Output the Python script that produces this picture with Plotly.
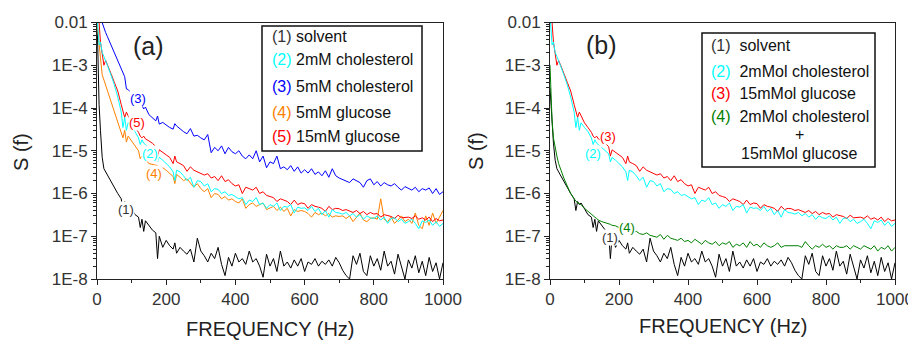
import plotly.graph_objects as go

# the page body has an 8px margin, so the figure is 908x332 and sits at (8, 8)
OFF = 8
W, H = 916 - OFF, 340 - OFF
FONT = "Liberation Sans, Arial, sans-serif"


def px(x):
    return (x - OFF) / W


def py(y):
    return 1 - (y - OFF) / H


# ---------------- data ----------------
freq = [0, 3, 6, 10, 15, 20, 25, 30,
        40, 50, 60, 70, 75, 80, 85, 90,
        100, 110, 120, 125, 130, 135, 140,
        150, 160, 170, 175, 180, 190, 200, 210, 220, 225, 230,
        240, 250, 260, 270, 280, 290, 300, 310, 320, 330,
        340, 350, 360, 370, 380, 390, 400, 410, 420, 430,
        440, 450, 460, 470, 480, 490, 500, 510, 520, 530,
        540, 550, 560, 570, 580, 590, 600, 610, 620, 630,
        640, 650, 660, 670, 680, 690, 700, 710, 720, 730,
        740, 750, 760, 770, 780, 790, 800, 810, 820, 830,
        840, 850, 860, 870, 880, 890, 900, 910, 920, 930,
        940, 950, 960, 970, 980, 990, 1000]

chol_5mM = [3.0e-2, 2.0e-2, 1.5e-2, 1.3e-2, 1.0e-2, 7.0e-3, 5.8e-3, 4.7e-3,
            3.1e-3, 2.0e-3, 1.3e-3, 8.5e-4, 6.9e-4, 5.4e-4, 2.8e-4, 2.7e-4,
            2.2e-4, 1.7e-4, 1.4e-4, 1.25e-4, 1.15e-4, 0.95e-4, 1.05e-4,
            7.0e-5, 6.0e-5, 5.0e-5, 6.5e-5, 4.2e-5, 4.6e-5, 4.0e-5, 3.5e-5, 3.2e-5, 4.3e-5, 3.8e-5,
            3.2e-5, 2.8e-5, 2.5e-5, 3.3e-5, 2.2e-5, 2.3e-5, 2.0e-5, 1.8e-5, 2.4e-5, 9.0e-6,
            1.2e-5, 1.0e-5, 1.3e-5, 8.5e-6, 1.2e-5, 9.5e-6, 8.5e-6, 1.0e-5, 7.5e-6, 6.5e-6,
            8.0e-6, 6.5e-6, 1.0e-5, 5.5e-6, 7.5e-6, 4.0e-6, 5.5e-6, 5.0e-6, 7.5e-6, 3.8e-6,
            4.2e-6, 3.6e-6, 4.5e-6, 3.3e-6, 4.2e-6, 3.0e-6, 3.6e-6, 3.0e-6, 3.8e-6, 2.8e-6,
            3.2e-6, 2.6e-6, 3.4e-6, 2.4e-6, 3.8e-6, 2.6e-6, 2.3e-6, 2.1e-6, 2.0e-6, 1.8e-6,
            2.2e-6, 2.0e-6, 1.8e-6, 1.4e-6, 2.0e-6, 2.2e-6, 1.6e-6, 1.9e-6, 1.5e-6, 1.8e-6,
            1.6e-6, 1.5e-6, 1.7e-6, 1.4e-6, 1.2e-6, 1.45e-6, 1.3e-6, 1.2e-6, 1.4e-6, 1.1e-6,
            1.3e-6, 1.2e-6, 1.35e-6, 1.0e-6, 1.3e-6, 0.95e-6, 1.1e-6]

glucose_15mM = [2.0e-2, 1.5e-2, 1.0e-2, 3.5e-3, 2.0e-3, 1.0e-3, 1.3e-3, 1.05e-3,
                6.5e-4, 4.0e-4, 2.5e-4, 1.2e-4, 9.0e-5, 6.0e-5, 8.0e-5, 6.5e-5,
                4.5e-5, 3.5e-5, 2.7e-5, 2.2e-5, 2.0e-5, 2.2e-5, 1.9e-5,
                1.7e-5, 1.5e-5, 1.25e-5, 7.5e-6, 1.05e-5, 9.0e-6, 8.0e-6, 7.0e-6, 5.0e-6, 7.5e-6, 5.5e-6,
                5.0e-6, 4.5e-6, 3.3e-6, 4.2e-6, 3.5e-6, 3.2e-6, 3.0e-6, 2.7e-6, 2.9e-6, 2.3e-6,
                2.5e-6, 2.0e-6, 2.6e-6, 1.9e-6, 2.1e-6, 1.7e-6, 1.5e-6, 1.6e-6, 1.0e-6, 1.4e-6,
                1.3e-6, 1.2e-6, 1.4e-6, 1.0e-6, 1.1e-6, 9.0e-7, 8.5e-7, 8.0e-7, 6.5e-7, 7.5e-7,
                7.0e-7, 6.5e-7, 5.5e-7, 7.0e-7, 5.5e-7, 6.0e-7, 5.8e-7, 4.5e-7, 5.5e-7, 5.0e-7,
                4.8e-7, 4.5e-7, 3.8e-7, 5.0e-7, 4.2e-7, 4.5e-7, 4.4e-7, 4.0e-7, 4.2e-7, 3.8e-7,
                3.6e-7, 4.0e-7, 3.4e-7, 3.8e-7, 3.2e-7, 3.6e-7, 3.3e-7, 3.4e-7, 2.8e-7, 3.2e-7,
                3.0e-7, 2.9e-7, 2.6e-7, 3.1e-7, 2.7e-7, 2.8e-7, 2.8e-7, 2.6e-7, 3.0e-7, 2.5e-7,
                2.7e-7, 2.4e-7, 2.8e-7, 2.2e-7, 2.6e-7, 2.3e-7, 2.4e-7]

chol_2mM = [1.5e-2, 8.0e-3, 3.0e-3, 3.5e-3, 2.0e-3, 1.6e-3, 1.3e-3, 1.0e-3,
            6.0e-4, 3.5e-4, 1.8e-4, 8.0e-5, 3.5e-5, 6.0e-5, 3.0e-5, 4.5e-5,
            3.5e-5, 2.8e-5, 2.0e-5, 1.4e-5, 1.8e-5, 1.5e-5, 1.4e-5,
            1.2e-5, 1.0e-5, 8.5e-6, 5.5e-6, 7.0e-6, 6.0e-6, 5.0e-6, 4.2e-6, 3.2e-6, 2.0e-6, 3.5e-6,
            3.2e-6, 2.6e-6, 2.0e-6, 2.4e-6, 1.4e-6, 2.0e-6, 1.9e-6, 1.5e-6, 1.7e-6, 1.1e-6,
            1.3e-6, 1.25e-6, 1.0e-6, 1.1e-6, 9.0e-7, 9.5e-7, 8.5e-7, 7.5e-7, 8.0e-7, 5.5e-7,
            7.0e-7, 6.5e-7, 8.0e-7, 5.5e-7, 6.0e-7, 4.5e-7, 5.5e-7, 5.0e-7, 6.0e-7, 4.0e-7,
            5.0e-7, 4.8e-7, 5.5e-7, 3.5e-7, 4.8e-7, 4.5e-7, 4.6e-7, 4.0e-7, 5.0e-7, 3.8e-7,
            4.5e-7, 3.2e-7, 4.0e-7, 2.8e-7, 4.2e-7, 3.6e-7, 3.5e-7, 3.3e-7, 3.6e-7, 3.0e-7,
            3.4e-7, 2.8e-7, 3.2e-7, 2.5e-7, 3.0e-7, 2.7e-7, 2.6e-7, 3.0e-7, 2.4e-7, 2.8e-7,
            2.0e-7, 2.6e-7, 2.7e-7, 2.2e-7, 2.5e-7, 2.0e-7, 2.2e-7, 2.5e-7, 2.0e-7, 1.5e-7,
            2.3e-7, 2.1e-7, 2.4e-7, 1.8e-7, 2.2e-7, 1.7e-7, 2.0e-7]

glucose_5mM = [1.0e-2, 5.0e-3, 2.5e-3, 1.5e-3, 6.0e-4, 4.5e-4, 3.5e-4, 2.8e-4,
               1.6e-4, 9.0e-5, 5.0e-5, 2.8e-5, 2.0e-5, 3.0e-5, 1.6e-5, 2.2e-5,
               1.7e-5, 1.3e-5, 1.0e-5, 6.5e-6, 7.5e-6, 6.0e-6, 6.5e-6,
               5.0e-6, 4.8e-6, 4.6e-6, 4.5e-6, 4.2e-6, 4.0e-6, 3.5e-6, 3.0e-6, 2.5e-6, 1.7e-6, 2.8e-6,
               2.4e-6, 2.0e-6, 2.2e-6, 1.8e-6, 1.4e-6, 1.7e-6, 1.3e-6, 1.1e-6, 1.3e-6, 8.0e-7,
               1.0e-6, 9.5e-7, 7.5e-7, 8.5e-7, 7.0e-7, 7.5e-7, 6.5e-7, 6.0e-7, 7.5e-7, 4.5e-7,
               5.5e-7, 6.0e-7, 5.0e-7, 5.5e-7, 6.0e-7, 4.2e-7, 4.6e-7, 5.0e-7, 4.0e-7, 4.8e-7,
               3.8e-7, 4.5e-7, 3.0e-7, 4.2e-7, 3.8e-7, 4.0e-7, 3.8e-7, 3.4e-7, 2.8e-7, 3.6e-7,
               3.2e-7, 3.5e-7, 3.0e-7, 3.4e-7, 2.8e-7, 3.0e-7, 2.9e-7, 3.0e-7, 2.6e-7, 3.0e-7,
               2.2e-7, 2.8e-7, 3.5e-7, 2.4e-7, 2.2e-7, 2.6e-7, 2.7e-7, 2.5e-7, 7.5e-7, 2.5e-7,
               2.2e-7, 2.8e-7, 2.0e-7, 2.4e-7, 3.0e-7, 2.2e-7, 2.5e-7, 2.0e-7, 3.5e-7, 1.8e-7,
               1.5e-7, 3.0e-7, 1.8e-7, 3.5e-7, 2.0e-7, 2.8e-7, 4.0e-7]

chol_glucose_mix = [1.0e-3, 2.0e-4, 5.0e-5, 2.0e-5, 1.1e-5, 7.5e-6, 5.0e-6, 3.8e-6,
                    2.3e-6, 1.5e-6, 1.0e-6, 7.5e-7, 6.5e-7, 6.0e-7, 5.8e-7, 5.5e-7,
                    4.5e-7, 3.8e-7, 3.2e-7, 2.9e-7, 2.8e-7, 2.6e-7, 2.4e-7,
                    2.2e-7, 2.1e-7, 2.0e-7, 1.9e-7, 1.8e-7, 1.75e-7, 1.6e-7, 1.5e-7, 1.45e-7, 1.4e-7, 1.3e-7,
                    1.2e-7, 1.3e-7, 1.15e-7, 1.1e-7, 1.2e-7, 1.05e-7, 1.0e-7, 9.5e-8, 1.1e-7, 8.5e-8,
                    1.05e-7, 9.0e-8, 8.5e-8, 8.0e-8, 9.0e-8, 7.5e-8, 8.0e-8, 7.0e-8, 8.5e-8, 7.5e-8,
                    6.5e-8, 8.0e-8, 7.0e-8, 6.5e-8, 7.5e-8, 6.0e-8, 7.0e-8, 6.5e-8, 7.5e-8, 5.5e-8,
                    6.5e-8, 6.0e-8, 7.0e-8, 5.5e-8, 7.5e-8, 6.0e-8, 6.5e-8, 5.5e-8, 7.0e-8, 6.0e-8,
                    5.5e-8, 6.0e-8, 7.0e-8, 5.5e-8, 6.0e-8, 6.0e-8, 6.0e-8, 6.0e-8, 6.0e-8, 5.5e-8,
                    7.5e-8, 6.0e-8, 5.0e-8, 6.0e-8, 5.5e-8, 6.5e-8, 5.5e-8, 6.0e-8, 5.0e-8, 6.0e-8,
                    5.5e-8, 5.5e-8, 6.0e-8, 5.0e-8, 6.0e-8, 5.5e-8, 5.0e-8, 6.0e-8, 5.5e-8, 5.0e-8,
                    6.0e-8, 4.5e-8, 5.5e-8, 5.0e-8, 6.0e-8, 4.5e-8, 5.5e-8]

solvent_head_a = [1.5e-2, 5.0e-4, 1.2e-4, 3.0e-5, 7.0e-6, 3.8e-6]
solvent_head_b = [3.0e-4, 1.0e-4, 4.0e-5, 1.5e-5, 6.0e-6, 3.8e-6]
solvent_tail = [3.2e-6, 2.7e-6,
                1.9e-6, 1.3e-6, 1.0e-6, 7.5e-7, 4.0e-7, 6.5e-7, 5.5e-7, 6.0e-7,
                4.2e-7, 3.2e-7, 2.8e-7, 1.6e-7, 2.5e-7, 1.3e-7, 2.3e-7,
                1.8e-7, 1.4e-7, 1.2e-7, 3.0e-8, 1.0e-7, 5.5e-8, 8.0e-8, 6.0e-8, 5.0e-8, 7.0e-8, 4.0e-8,
                5.5e-8, 4.5e-8, 3.8e-8, 5.0e-8, 2.5e-8, 9.0e-8, 4.5e-8, 3.5e-8, 2.5e-8, 4.0e-8,
                3.0e-8, 5.5e-8, 2.2e-8, 1.2e-8, 3.2e-8, 2.0e-8, 4.0e-8, 2.5e-8, 3.0e-8, 2.2e-8,
                4.5e-8, 2.5e-8, 3.0e-8, 2.0e-8, 1.1e-8, 3.8e-8, 2.0e-8, 3.0e-8, 1.5e-8, 4.5e-8,
                2.0e-8, 2.5e-8, 1.8e-8, 2.8e-8, 2.0e-8, 3.0e-8, 1.5e-8, 2.5e-8, 2.2e-8, 3.0e-8,
                2.0e-8, 2.6e-8, 2.2e-8, 2.8e-8, 2.0e-8, 3.2e-8, 2.4e-8, 1.6e-8, 1.2e-8, 1.0e-8,
                3.5e-8, 2.2e-8, 4.0e-8, 1.5e-8, 1.2e-8, 3.5e-8, 2.0e-8, 3.0e-8, 1.6e-8, 4.5e-8,
                2.0e-8, 2.6e-8, 1.3e-8, 3.8e-8, 2.0e-8, 1.0e-8, 2.8e-8, 1.8e-8, 3.5e-8, 1.4e-8,
                2.6e-8, 1.2e-8, 3.2e-8, 1.5e-8, 2.4e-8, 1.0e-8, 2.4e-8]
solvent_a = solvent_head_a + solvent_tail
solvent_b = solvent_head_b + solvent_tail

for s in (chol_5mM, glucose_15mM, chol_2mM, glucose_5mM, chol_glucose_mix, solvent_a, solvent_b):
    assert len(s) == len(freq), len(s)

x_ticks = [0, 200, 400, 600, 800, 1000]
x_minor = [100, 300, 500, 700, 900]
y_ticks = [1e-8, 1e-7, 1e-6, 1e-5, 1e-4, 1e-3, 1e-2]
y_ticktext = ["1E-8", "1E-7", "1E-6", "1E-5", "1E-4", "1E-3", "0.01"]
y_minor = [m * d for d in (1e-8, 1e-7, 1e-6, 1e-5, 1e-4, 1e-3) for m in range(2, 10)]

BLACK, CYAN, BLUE, ORANGE, RED, GREEN = "#000000", "#00FFFF", "#0000FF", "#FF8000", "#FF0000", "#008000"

fig = go.Figure()


def add(y, color, xa, ya):
    fig.add_trace(go.Scatter(x=freq, y=y, mode="lines", line=dict(color=color, width=1),
                             xaxis=xa, yaxis=ya, showlegend=False, hoverinfo="skip"))


# panel (a)
add(solvent_a, BLACK, "x", "y")
add(chol_5mM, BLUE, "x", "y")
add(glucose_5mM, ORANGE, "x", "y")
add(glucose_15mM, RED, "x", "y")
add(chol_2mM, CYAN, "x", "y")
# panel (b)
add(solvent_b, BLACK, "x2", "y2")
add(chol_glucose_mix, GREEN, "x2", "y2")
add(glucose_15mM, RED, "x2", "y2")
add(chol_2mM, CYAN, "x2", "y2")

AX = "#222222"
tickfont = dict(family=FONT, size=17, color="#333333")
xcommon = dict(range=[0, 1000], tickmode="array", tickvals=x_ticks, ticks="outside", ticklen=5,
               tickcolor=AX, showline=True, linecolor=AX, linewidth=1, mirror=True,
               showgrid=False, zeroline=False, tickfont=tickfont, automargin=False,
               minor=dict(tickmode="array", tickvals=x_minor, ticks="outside", ticklen=3, tickcolor=AX))
ycommon = dict(type="log", range=[-8, -2], tickmode="array", tickvals=y_ticks, ticktext=y_ticktext,
               ticks="outside", ticklen=5, tickcolor=AX, showline=True, linecolor=AX, linewidth=1,
               mirror=True, showgrid=False, zeroline=False, tickfont=tickfont, automargin=False,
               minor=dict(tickmode="array", tickvals=y_minor, ticks="outside", ticklen=3, tickcolor=AX))

ybot, ytop = py(279), py(22.5)
fig.update_layout(
    width=W, height=H, margin=dict(l=0, r=0, t=0, b=0, autoexpand=False),
    paper_bgcolor="white", plot_bgcolor="white",
    xaxis=dict(domain=[px(97), px(443)], anchor="y", **xcommon),
    yaxis=dict(domain=[ybot, ytop], anchor="x", **ycommon),
    xaxis2=dict(domain=[px(550), px(895)], anchor="y2", **xcommon),
    yaxis2=dict(domain=[ybot, ytop], anchor="x2", **ycommon),
)

ann = []


def text(x, y, t, size, color="#222222", xanchor="center", angle=0, bg=None):
    d = dict(x=px(x), y=py(y), xref="paper", yref="paper", text=t, showarrow=False,
             xanchor=xanchor, yanchor="middle", textangle=angle,
             font=dict(family=FONT, size=size, color=color))
    if bg:
        d.update(bgcolor=bg, borderpad=0)
    ann.append(d)


# axis titles
text(270, 329, "FREQUENCY (Hz)", 20)
text(723, 326, "FREQUENCY (Hz)", 20)
text(21, 152, "S (f)", 20, angle=-90)
text(476, 151, "S (f)", 20, angle=-90)
# panel labels
text(148, 46, "(a)", 25)
text(601, 45, "(b)", 25)


def sp(c, t):
    return "<span style='color:%s'>%s</span>" % (c, t)


# legend (a)
leg_a = [("(1)", BLACK, "solvent", 37), ("(2)", CYAN, "2mM cholesterol", 60),
         ("(3)", BLUE, "5mM cholesterol", 86), ("(4)", ORANGE, "5mM glucose", 112),
         ("(5)", RED, "15mM glucose", 136)]
for lab, c, name, y in leg_a:
    text(270, y, sp(c if c != BLACK else "#333", lab) + " " + name, 16, color="#111", xanchor="left")
# legend (b)
leg_b = [("(1)", BLACK, "solvent", 45), ("(2)", CYAN, "2mMol cholesterol", 71),
         ("(3)", RED, "15mMol glucose", 93), ("(4)", GREEN, "2mMol cholesterol", 116)]
for lab, c, name, y in leg_b:
    text(709, y, sp(c if c != BLACK else "#333", lab) + "&nbsp; " + name, 16, color="#111", xanchor="left")
text(799, 134, "+", 16, color="#111")
text(799, 154, "15mMol glucose", 16, color="#111")

# curve labels
text(138, 98, "(3)", 13, color=BLUE, bg="white")
text(137, 123, "(5)", 13, color=RED, bg="white")
text(150, 153, "(2)", 13, color=CYAN, bg="white")
text(154, 173, "(4)", 13, color=ORANGE, bg="white")
text(126, 209, "(1)", 13, color="#333", bg="white")
text(608, 137, "(3)", 13, color=RED, bg="white")
text(593, 153, "(2)", 13, color=CYAN, bg="white")
text(627, 227, "(4)", 13, color=GREEN, bg="white")
text(610, 238, "(1)", 13, color="#333", bg="white")

fig.update_layout(annotations=ann, shapes=[
    dict(type="rect", xref="paper", yref="paper", x0=px(262), x1=px(422), y0=py(151), y1=py(26),
         line=dict(color="#111", width=1.5), fillcolor="white", layer="above"),
    dict(type="rect", xref="paper", yref="paper", x0=px(702), x1=px(875), y0=py(167), y1=py(33),
         line=dict(color="#111", width=1.5), fillcolor="rgba(0,0,0,0)", layer="above"),
])

fig.write_html("out.html")
